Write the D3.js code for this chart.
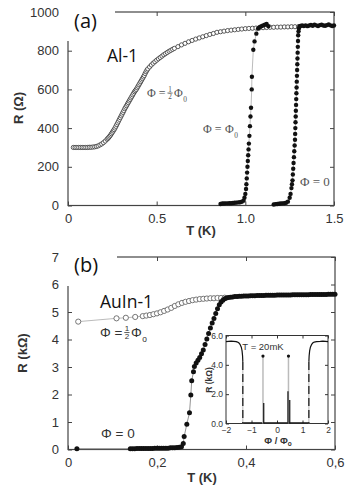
<!DOCTYPE html>
<html><head><meta charset="utf-8">
<script src="https://cdn.jsdelivr.net/npm/d3@7/dist/d3.min.js"></script>
<style>
html,body{margin:0;padding:0;background:#fff;}
svg{display:block;}
.tick text{font-family:"Liberation Sans",Arial,sans-serif;fill:#333;}
</style></head>
<body><svg id="c" width="346" height="485"></svg>
<script>
// ---------- DATA ----------
// Panel (a): Al-1, R in ohm vs T in K
const aTicksX = [0, 0.5, 1.0, 1.5];
const aTickLabelsX = ["0", "0.5", "1.0", "1.5"];
const aTicksY = [0, 200, 400, 600, 800, 1000];
const aHalf = [[0.03,300],[0.04,300],[0.05,300],[0.06,300],[0.07,300],[0.08,300],[0.09,300],[0.10,300],[0.11,300],[0.12,301],[0.13,301],[0.14,302],[0.15,303],[0.16,305],[0.17,308],[0.18,313],[0.19,318],[0.20,325],[0.21,333],[0.22,342],[0.225,347],[0.23,352],[0.235,358],[0.24,364],[0.245,371],[0.25,378],[0.255,385],[0.26,392],[0.265,400],[0.27,409],[0.275,418],[0.28,427],[0.285,436],[0.29,445],[0.295,454],[0.30,463],[0.305,472],[0.31,481],[0.315,490],[0.32,500],[0.325,508],[0.33,516],[0.335,524],[0.34,532],[0.345,540],[0.35,548],[0.355,556],[0.36,564],[0.365,572],[0.37,580],[0.375,588],[0.38,594],[0.385,600],[0.39,608],[0.395,616],[0.40,624],[0.405,632],[0.41,640],[0.415,648],[0.42,656],[0.425,664],[0.43,672],[0.435,682],[0.44,691],[0.445,699],[0.45,706],[0.46,716],[0.47,726],[0.48,735],[0.49,743],[0.50,751],[0.51,758],[0.52,765],[0.53,772],[0.54,779],[0.55,785],[0.56,791],[0.57,797],[0.58,802],[0.59,807],[0.60,812],[0.62,821],[0.64,830],[0.66,838],[0.68,846],[0.70,853],[0.72,860],[0.74,866],[0.76,872],[0.78,878],[0.80,884],[0.82,889],[0.84,895],[0.86,898],[0.88,901],[0.90,904],[0.92,906],[0.94,908],[0.96,910],[0.98,912],[1.00,914],[1.02,915],[1.04,916],[1.06,917],[1.08,918],[1.10,919],[1.12,920],[1.14,921],[1.16,921],[1.18,922],[1.20,922],[1.22,923],[1.24,923],[1.26,924],[1.28,924],[1.30,924]];
const aFlux0 = [[0.86,8],[0.87,10],[0.88,10],[0.89,11],[0.90,11],[0.91,12],[0.92,12],[0.93,13],[0.94,14],[0.95,15],[0.96,16],[0.97,17],[0.98,19],[0.99,25],[0.995,40],[1.0,60],[1.004,85],[1.006,110],[1.008,140],[1.010,170],[1.012,200],[1.014,230],[1.016,260],[1.018,290],[1.020,320],[1.023,360],[1.026,410],[1.029,460],[1.032,505],[1.036,600],[1.037,665],[1.045,805],[1.052,848],[1.062,888],[1.072,915],[1.08,922],[1.09,926],[1.10,930],[1.11,934],[1.12,938],[1.13,927]];
const aZero = [[1.16,5],[1.17,7],[1.18,8],[1.19,9],[1.20,10],[1.21,11],[1.22,12],[1.23,14],[1.24,20],[1.25,40],[1.255,60],[1.26,90],[1.263,110],[1.266,130],[1.268,160],[1.27,190],[1.272,220],[1.274,250],[1.276,280],[1.278,310],[1.28,340],[1.281,370],[1.282,400],[1.283,430],[1.284,460],[1.285,490],[1.286,520],[1.287,550],[1.288,580],[1.289,610],[1.29,640],[1.291,670],[1.292,700],[1.293,730],[1.294,760],[1.295,790],[1.296,820],[1.297,850],[1.298,880],[1.30,900],[1.302,915],[1.305,925],[1.31,928],[1.32,930],[1.33,928],[1.34,931],[1.35,927],[1.36,930],[1.37,933],[1.38,929],[1.39,935],[1.40,931],[1.41,928],[1.42,932],[1.43,934],[1.44,930],[1.45,929],[1.46,932],[1.47,936],[1.48,931],[1.49,928],[1.50,930]];

// Panel (b): AuIn-1, R in kOhm vs T in K
const bTicksX = [0, 0.2, 0.4, 0.6];
const bTickLabelsX = ["0", "0,2", "0,4", "0,6"];
const bTicksY = [0, 1, 2, 3, 4, 5, 6, 7];
const bHalf = [[0.023,4.65],[0.109,4.77],[0.13,4.79],[0.151,4.82],[0.168,4.85],[0.176,4.87],[0.184,4.89],[0.192,4.92],[0.200,4.95],[0.208,4.99],[0.216,5.04],[0.224,5.09],[0.232,5.15],[0.240,5.22],[0.248,5.28],[0.256,5.33],[0.264,5.37],[0.272,5.40],[0.280,5.43],[0.288,5.45],[0.296,5.47],[0.304,5.48],[0.312,5.49],[0.320,5.50],[0.328,5.50],[0.336,5.51],[0.344,5.51],[0.352,5.52]];
const bZero = [[0.02,0.03],[0.14,0.03],[0.145,0.03],[0.15,0.03],[0.155,0.04],[0.16,0.04],[0.165,0.04],[0.17,0.04],[0.175,0.04],[0.18,0.04],[0.185,0.04],[0.19,0.04],[0.195,0.05],[0.20,0.05],[0.205,0.05],[0.21,0.05],[0.215,0.05],[0.22,0.05],[0.225,0.05],[0.23,0.06],[0.235,0.06],[0.24,0.06],[0.245,0.07],[0.25,0.08],[0.255,0.10],[0.259,0.22],[0.261,0.47],[0.267,0.92],[0.273,1.34],[0.276,1.98],[0.278,2.5],[0.282,2.83],[0.284,3.02],[0.288,3.15],[0.292,3.25],[0.296,3.35],[0.300,3.48],[0.304,3.62],[0.308,3.82],[0.312,4.02],[0.316,4.22],[0.320,4.42],[0.324,4.60],[0.328,4.76],[0.332,4.95],[0.336,5.12],[0.340,5.26],[0.344,5.36],[0.348,5.43],[0.352,5.48],[0.356,5.51],[0.36,5.53],[0.365,5.54],[0.37,5.55],[0.375,5.56],[0.38,5.56],[0.385,5.57],[0.39,5.57],[0.395,5.58],[0.40,5.58],[0.405,5.58],[0.41,5.59],[0.415,5.59],[0.42,5.59],[0.425,5.60],[0.43,5.60],[0.435,5.60],[0.44,5.60],[0.445,5.61],[0.45,5.61],[0.455,5.61],[0.46,5.61],[0.465,5.61],[0.47,5.62],[0.475,5.62],[0.48,5.62],[0.485,5.62],[0.49,5.62],[0.495,5.62],[0.50,5.62],[0.505,5.63],[0.51,5.63],[0.515,5.63],[0.52,5.63],[0.525,5.63],[0.53,5.63],[0.535,5.63],[0.54,5.63],[0.545,5.64],[0.55,5.64],[0.555,5.64],[0.56,5.64],[0.565,5.64],[0.57,5.64],[0.575,5.64],[0.58,5.64],[0.585,5.65],[0.59,5.65],[0.595,5.65],[0.60,5.65]];

// Inset: R (kOhm) vs flux at T = 20 mK
const insetTicksX = [-2, -1, 0, 1, 2];
const insetTicksY = [0, 2, 4, 6];
const insetLeft = [[-2,5.58],[-1.9,5.6],[-1.8,5.62],[-1.7,5.6],[-1.6,5.58],[-1.55,5.55],[-1.5,5.5],[-1.45,5.4],[-1.4,5.2],[-1.37,4.95],[-1.35,4.6],[-1.34,4.2]];
const insetRight = [[1.25,4.2],[1.26,4.6],[1.28,4.95],[1.31,5.2],[1.36,5.4],[1.41,5.5],[1.46,5.55],[1.55,5.58],[1.7,5.6],[1.8,5.62],[1.9,5.6],[2,5.58]];
const insetDrops = [[-1.34,4.2],[1.25,4.2]];
const insetBase = [[-1.34,0.05],[1.25,0.05]];
const insetSpikes = [[-0.55,4.6],[0.45,4.6]];
const insetBlack = [[-0.52,1.4],[0.43,2.2],[0.5,1.6]];

// ---------- DRAW ----------
const svg = d3.select("#c");
svg.append("rect").attr("width",346).attr("height",485).attr("fill","#fff");
const frameCol = "#444";

function panel(opt){
  const x = d3.scaleLinear().domain(opt.xd).range([opt.l, opt.r]);
  const y = d3.scaleLinear().domain(opt.yd).range([opt.b, opt.t]);
  const g = svg.append("g");
  g.append("rect").attr("x",opt.l).attr("y",opt.t).attr("width",opt.r-opt.l).attr("height",opt.b-opt.t)
    .attr("fill","none").attr("stroke",frameCol).attr("stroke-width",1.2);
  const ax = (gen, tr) => {
    const a = g.append("g").attr("transform",tr).call(gen);
    a.select(".domain").remove();
    a.selectAll(".tick line").attr("stroke",frameCol).attr("stroke-width",1);
    return a;
  };
  ax(d3.axisBottom(x).tickValues(opt.xt).tickFormat((d,i)=>opt.xl[i]).tickSizeInner(-4).tickSizeOuter(0).tickPadding(opt.xpad), `translate(0,${opt.b})`)
    .selectAll("text").attr("font-size",opt.fs);
  ax(d3.axisTop(x).tickValues(opt.xt).tickFormat("").tickSizeInner(-4).tickSizeOuter(0), `translate(0,${opt.t})`);
  ax(d3.axisLeft(y).tickValues(opt.yt).tickFormat(d3.format("d")).tickSizeInner(-4).tickSizeOuter(0).tickPadding(opt.ypad), `translate(${opt.l},0)`)
    .selectAll("text").attr("font-size",opt.fs);
  ax(d3.axisRight(y).tickValues(opt.yt).tickFormat("").tickSizeInner(-4).tickSizeOuter(0), `translate(${opt.r},0)`);
  return {x,y,g};
}

const line = (x,y) => d3.line().x(d=>x(d[0])).y(d=>y(d[1]));

// Panel (a)
const A = panel({xd:[0,1.5], yd:[0,1000], l:68, r:334, t:12, b:205.5, xt:aTicksX, xl:aTickLabelsX, yt:aTicksY, fs:13, xpad:8, ypad:9});
A.g.append("path").datum(aFlux0).attr("d",line(A.x,A.y)).attr("fill","none").attr("stroke","#aaa").attr("stroke-width",0.8);
A.g.append("path").datum(aZero).attr("d",line(A.x,A.y)).attr("fill","none").attr("stroke","#aaa").attr("stroke-width",0.8);
A.g.selectAll(".ah").data(aHalf).join("circle").attr("cx",d=>A.x(d[0])).attr("cy",d=>A.y(d[1])).attr("r",2.1)
  .attr("fill","#fff").attr("stroke","#333").attr("stroke-width",0.8);
A.g.selectAll(".af").data(aFlux0).join("circle").attr("cx",d=>A.x(d[0])).attr("cy",d=>A.y(d[1])).attr("r",2.2).attr("fill","#111");
A.g.selectAll(".az").data(aZero).join("circle").attr("cx",d=>A.x(d[0])).attr("cy",d=>A.y(d[1])).attr("r",2.2).attr("fill","#111");
svg.append("rect").attr("x",66).attr("y",0).attr("width",49).attr("height",41).attr("fill","#fff");
svg.append("text").attr("x",74).attr("y",28).attr("font-family","Open Sans, sans-serif").attr("font-size",20).attr("fill","#111").text("(a)");
svg.append("text").attr("x",107).attr("y",62).attr("font-family","Open Sans, sans-serif").attr("font-size",17.5).attr("fill","#111").text("Al-1");
svg.append("text").attr("transform","translate(23,108) rotate(-90)").attr("text-anchor","middle")
  .attr("font-family","Liberation Sans, Arial, sans-serif").attr("font-weight","bold").attr("font-size",13).attr("fill","#333").text("R (Ω)");
svg.append("text").attr("x",201).attr("y",235).attr("text-anchor","middle")
  .attr("font-family","Liberation Sans, Arial, sans-serif").attr("font-weight","bold").attr("font-size",13).attr("fill","#333").text("T (K)");

// flux label helper: lays pieces out using measured widths
function fluxLabel(x, yb, opts){
  const fs = opts.fs;
  const t = svg.append("g").attr("fill",opts.col).attr("font-family",opts.font).attr("font-size",fs);
  const head = t.append("text").attr("x",x).attr("y",yb).text(opts.kind==="zero" ? "Φ = 0" : "Φ =");
  if(opts.kind==="zero") return;
  let cx = x + head.node().getComputedTextLength() + 1.5;
  if(opts.kind==="half"){
    const ffs = fs*0.6;
    const fx = cx + 3;
    t.append("text").attr("x",fx).attr("y",yb-fs*0.42).attr("text-anchor","middle").attr("font-size",ffs).text("1");
    t.append("line").attr("x1",fx-2.6).attr("x2",fx+2.6).attr("y1",yb-fs*0.33).attr("y2",yb-fs*0.33).attr("stroke",opts.col).attr("stroke-width",0.8);
    t.append("text").attr("x",fx).attr("y",yb+fs*0.16).attr("text-anchor","middle").attr("font-size",ffs).text("2");
    cx = fx + 4;
  } else {
    cx += 2;
  }
  const phi = t.append("text").attr("x",cx).attr("y",yb).text("Φ");
  cx += phi.node().getComputedTextLength() + 0.5;
  t.append("text").attr("x",cx).attr("y",yb+fs*0.38).attr("font-size",fs*0.62).text(opts.sub);
}
fluxLabel(147, 97, {kind:"half", col:"#555", font:"Liberation Serif, serif", fs:12, sub:"0"});
fluxLabel(203, 133, {kind:"one", col:"#555", font:"Liberation Serif, serif", fs:12, sub:"0"});
fluxLabel(300, 186, {kind:"zero", col:"#555", font:"Liberation Serif, serif", fs:13});

// Panel (b)
const B = panel({xd:[0,0.6], yd:[0,7], l:68, r:335, t:257, b:449.5, xt:bTicksX, xl:bTickLabelsX, yt:bTicksY, fs:13, xpad:8, ypad:9});
B.g.append("path").datum(bHalf).attr("d",line(B.x,B.y)).attr("fill","none").attr("stroke","#aaa").attr("stroke-width",0.8);
B.g.append("path").datum(bZero).attr("d",line(B.x,B.y)).attr("fill","none").attr("stroke","#888").attr("stroke-width",0.9);
B.g.selectAll(".bh").data(bHalf).join("circle").attr("cx",d=>B.x(d[0])).attr("cy",d=>B.y(d[1])).attr("r",2.6)
  .attr("fill","#fff").attr("stroke","#666").attr("stroke-width",0.9);
B.g.selectAll(".bz").data(bZero).join("circle").attr("cx",d=>B.x(d[0])).attr("cy",d=>B.y(d[1])).attr("r",2.5).attr("fill","#111");
svg.append("rect").attr("x",66).attr("y",244).attr("width",51).attr("height",42).attr("fill","#fff");
svg.append("text").attr("x",74).attr("y",272).attr("font-family","Open Sans, sans-serif").attr("font-size",20).attr("fill","#111").text("(b)");
svg.append("text").attr("x",100).attr("y",308).attr("font-family","Open Sans, sans-serif").attr("font-size",17.5).attr("fill","#111").text("AuIn-1");
svg.append("text").attr("transform","translate(27,353) rotate(-90)").attr("text-anchor","middle")
  .attr("font-family","Liberation Sans, Arial, sans-serif").attr("font-weight","bold").attr("font-size",13).attr("fill","#333").text("R (kΩ)");
svg.append("text").attr("x",202).attr("y",482).attr("text-anchor","middle")
  .attr("font-family","Liberation Sans, Arial, sans-serif").attr("font-weight","bold").attr("font-size",13).attr("fill","#333").text("T (K)");
fluxLabel(100, 337, {kind:"half", col:"#333", font:"Liberation Sans, Arial, sans-serif", fs:13.5, sub:"o"});
fluxLabel(101, 438, {kind:"zero", col:"#333", font:"Liberation Sans, Arial, sans-serif", fs:13.5});

// Inset
const xi = d3.scaleLinear().domain([-2,2]).range([226,328]);
const yi = d3.scaleLinear().domain([0,6]).range([423.5,335.5]);
const gi = svg.append("g");
gi.append("rect").attr("x",226).attr("y",335.5).attr("width",102).attr("height",88).attr("fill","#fff").attr("stroke","#333").attr("stroke-width",1);
const iax = (gen,tr)=>{const a=gi.append("g").attr("transform",tr).call(gen); a.select(".domain").remove();
  a.selectAll(".tick line").attr("stroke","#333"); a.selectAll("text").attr("font-size",8.5); return a;};
iax(d3.axisBottom(xi).tickValues(insetTicksX).tickFormat(d3.format("d")).tickSizeInner(-3).tickSizeOuter(0).tickPadding(3.5), "translate(0,423.5)");
iax(d3.axisTop(xi).tickValues(insetTicksX).tickFormat("").tickSizeInner(-3).tickSizeOuter(0), "translate(0,335.5)");
iax(d3.axisLeft(yi).tickValues(insetTicksY).tickSizeInner(-3).tickSizeOuter(0).tickPadding(3), "translate(226,0)");
iax(d3.axisRight(yi).tickValues(insetTicksY).tickFormat("").tickSizeInner(-3).tickSizeOuter(0), "translate(328,0)");
const li = line(xi,yi);
gi.append("path").datum(insetBase).attr("d",li).attr("fill","none").attr("stroke","#111").attr("stroke-width",1.2);
insetDrops.forEach(d=>{
  gi.append("line").attr("x1",xi(d[0])).attr("x2",xi(d[0])).attr("y1",yi(d[1])).attr("y2",yi(0)).attr("stroke","#bbb").attr("stroke-width",1);
  gi.append("line").attr("x1",xi(d[0])).attr("x2",xi(d[0])).attr("y1",yi(d[1])).attr("y2",yi(0)).attr("stroke","#111").attr("stroke-width",1.2).attr("stroke-dasharray","8,4");
});
gi.append("path").datum(insetLeft).attr("d",li).attr("fill","none").attr("stroke","#111").attr("stroke-width",1.2);
gi.append("path").datum(insetRight).attr("d",li).attr("fill","none").attr("stroke","#111").attr("stroke-width",1.2);
insetSpikes.forEach(d=>{
  gi.append("line").attr("x1",xi(d[0])).attr("x2",xi(d[0])).attr("y1",yi(d[1])).attr("y2",yi(0)).attr("stroke","#bbb").attr("stroke-width",1.5);
  gi.append("circle").attr("cx",xi(d[0])).attr("cy",yi(d[1])).attr("r",1.6).attr("fill","#111");
});
insetBlack.forEach(d=>{
  gi.append("line").attr("x1",xi(d[0])).attr("x2",xi(d[0])).attr("y1",yi(d[1])).attr("y2",yi(0)).attr("stroke","#111").attr("stroke-width",1.2);
});
gi.append("text").attr("x",263).attr("y",350).attr("text-anchor","middle").attr("font-family","Liberation Sans, Arial, sans-serif").attr("font-size",9.5).attr("fill","#333").text("T = 20mK");
gi.append("text").attr("transform","translate(212,380) rotate(-90)").attr("text-anchor","middle")
  .attr("font-family","Liberation Sans, Arial, sans-serif").attr("font-weight","bold").attr("font-size",8.5).attr("fill","#333").text("R (kΩ)");
const pl = gi.append("text").attr("x",278).attr("y",444).attr("text-anchor","middle").attr("font-family","Liberation Sans, Arial, sans-serif").attr("font-weight","bold").attr("font-size",9.5).attr("fill","#333");
pl.append("tspan").text("Φ / Φ");
pl.append("tspan").attr("font-size",6.5).attr("dy",2).text("o");
</script></body></html>
